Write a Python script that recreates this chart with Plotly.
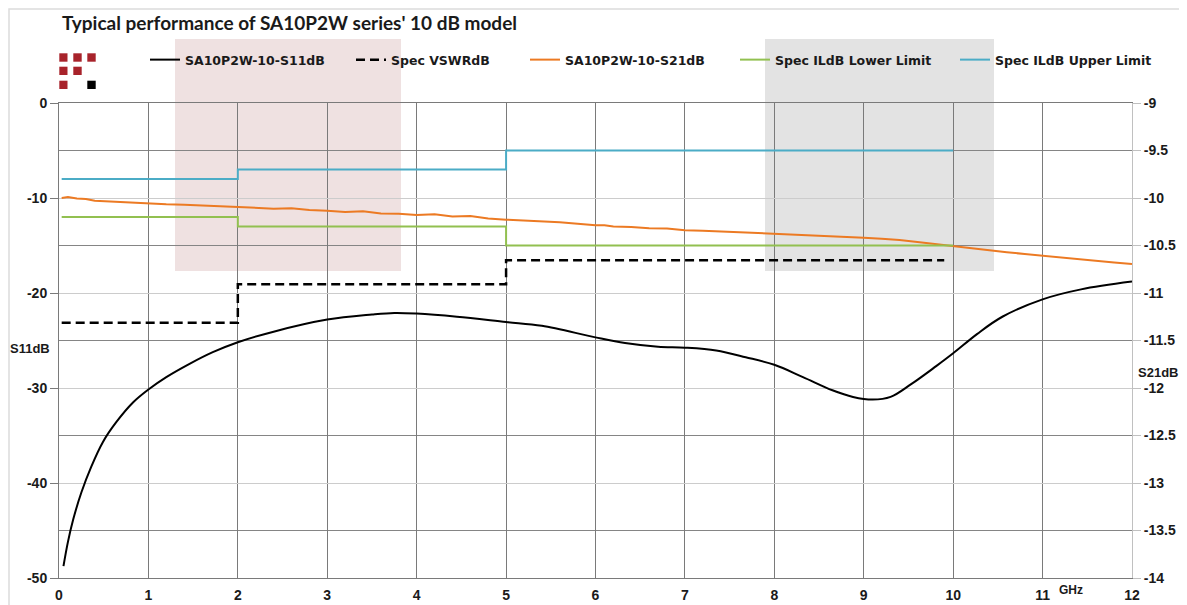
import plotly.graph_objects as go

# ---------------- data ----------------
s11_x = [0.05, 0.10, 0.16, 0.25, 0.36, 0.49, 0.64, 0.83, 1.00, 1.20, 1.46, 1.72, 2.00, 2.40,
         3.00, 3.50, 3.75, 4.00, 4.45, 5.00, 5.40, 6.00, 6.33, 6.70, 7.00, 7.35, 7.68, 8.00,
         8.32, 8.65, 8.88, 9.10, 9.30, 9.53, 9.81, 10.00, 10.27, 10.55, 11.00, 11.43, 12.00]
s11_db = [-48.75, -46.2, -43.8, -41.0, -38.3, -35.7, -33.6, -31.5, -30.16, -28.86, -27.46, -26.23,
          -25.18, -24.07, -22.8, -22.27, -22.1, -22.17, -22.5, -23.05, -23.45, -24.67, -25.26,
          -25.65, -25.75, -26.05, -26.76, -27.56, -28.85, -30.24, -30.94, -31.22, -30.94, -29.6,
          -27.7, -26.35, -24.3, -22.5, -20.67, -19.62, -18.8]

vswr_x = [0.03, 2.0, 5.0, 9.9]
vswr_db = [-23.13, -19.08, -16.54, -16.54]

s21_x = [0.03, 0.1, 0.2, 0.3, 0.4, 0.6, 0.8, 1.0, 1.2, 1.4, 1.6, 1.8, 2.0, 2.2, 2.4, 2.6, 2.8,
         3.0, 3.2, 3.4, 3.6, 3.8, 4.0, 4.2, 4.4, 4.6, 4.8, 5.0, 5.2, 5.4, 5.6, 5.8, 6.0, 6.1,
         6.2, 6.4, 6.6, 6.8, 7.0, 7.2, 7.4, 7.6, 7.8, 8.0, 8.2, 8.4, 8.6, 8.8, 9.0, 9.2, 9.4,
         9.6, 9.8, 10.0, 10.2, 10.4, 10.6, 10.8, 11.0, 11.2, 11.4, 11.6, 11.8, 12.0]
s21_db = [-10.000, -9.990, -10.005, -10.010, -10.030, -10.040, -10.050, -10.058, -10.066, -10.070,
          -10.078, -10.086, -10.095, -10.100, -10.112, -10.108, -10.126, -10.135, -10.148, -10.140,
          -10.162, -10.165, -10.180, -10.172, -10.195, -10.190, -10.215, -10.228, -10.235, -10.248,
          -10.255, -10.270, -10.288, -10.286, -10.300, -10.305, -10.318, -10.320, -10.340, -10.344,
          -10.352, -10.358, -10.368, -10.378, -10.382, -10.390, -10.400, -10.405, -10.418, -10.430,
          -10.442, -10.462, -10.485, -10.508, -10.530, -10.548, -10.570, -10.590, -10.608, -10.630,
          -10.650, -10.668, -10.680, -10.695]

lim_x = [0.03, 2.0, 5.0, 10.0]
lower_db = [-10.2, -10.3, -10.5, -10.5]
upper_db = [-9.8, -9.7, -9.5, -9.5]

names = ["SA10P2W-10-S11dB", "Spec VSWRdB", "SA10P2W-10-S21dB",
         "Spec ILdB Lower Limit", "Spec ILdB Upper Limit"]
left_ticks = [0, -10, -20, -30, -40, -50]
left_labels = ["0", "-10", "-20", "-30", "-40", "-50"]
right_ticks = [-9, -9.5, -10, -10.5, -11, -11.5, -12, -12.5, -13, -13.5, -14]
right_labels = ["-9", "-9.5", "-10", "-10.5", "-11", "-11.5", "-12", "-12.5", "-13", "-13.5", "-14"]
x_ticks = [0, 1, 2, 3, 4, 5, 6, 7, 8, 9, 10, 11, 12]
title_text = "Typical performance of SA10P2W series' 10 dB model"

# ---------------- layout helpers ----------------
# the page body adds an 8 px offset; screen coordinates below are converted
OFF = 8
SW, SH = 1187, 605
W, H = SW - OFF, SH - OFF
PL, PR, PT, PB = 59, 1132, 103, 578          # plot area in screen pixels
L, R, T, B = PL - OFF, SW - PR, PT - OFF, SH - PB
PW, PH = PR - PL, PB - PT


def px(x):
    return (x - PL) / PW


def py(y):
    return (PB - y) / PH


LEG_FONT = "DejaVu Sans"
TICK_FONT = "Liberation Sans"
BOLD = dict(family=TICK_FONT, size=13, color="#1a1a1a", weight="bold")
TICKF = dict(family=TICK_FONT, size=14, color="#1a1a1a", weight="bold")

fig = go.Figure()
fig.add_trace(go.Scatter(x=s11_x, y=s11_db, name=names[0], mode="lines",
                         line=dict(color="#000000", width=2, shape="spline", smoothing=1.0),
                         legend="legend", yaxis="y"))
fig.add_trace(go.Scatter(x=vswr_x, y=vswr_db, name=names[1], mode="lines",
                         line=dict(color="#000000", width=2.5, dash="9px,5px", shape="hv"),
                         legend="legend2", yaxis="y"))
fig.add_trace(go.Scatter(x=s21_x, y=s21_db, name=names[2], mode="lines",
                         line=dict(color="#ec7a23", width=2),
                         legend="legend3", yaxis="y2"))
fig.add_trace(go.Scatter(x=lim_x, y=lower_db, name=names[3], mode="lines",
                         line=dict(color="#92c050", width=2, shape="hv"),
                         legend="legend4", yaxis="y2"))
fig.add_trace(go.Scatter(x=lim_x, y=upper_db, name=names[4], mode="lines",
                         line=dict(color="#4bacc6", width=2, shape="hv"),
                         legend="legend5", yaxis="y2"))

shapes = []
# highlighted background regions
shapes.append(dict(type="rect", xref="paper", yref="paper", x0=px(175), x1=px(401),
                   y0=py(271), y1=py(39), fillcolor="#efe1e1", line=dict(width=0), layer="below"))
shapes.append(dict(type="rect", xref="paper", yref="paper", x0=px(765), x1=px(994),
                   y0=py(271), y1=py(39), fillcolor="#e3e3e3", line=dict(width=0), layer="below"))
# outer frame
shapes.append(dict(type="rect", xref="paper", yref="paper", x0=px(9), x1=px(1220),
                   y0=py(640), y1=py(9), line=dict(color="#dcdcdc", width=1.5), layer="below"))
# logo
cols = [(59.3, 67.5), (73.3, 81.7), (87.3, 95.7)]
rows = [(53.3, 61.7), (66.7, 75.0), (80.7, 89.0)]
cells = [(0, 0, "#a8232b"), (0, 1, "#a8232b"), (0, 2, "#a8232b"),
         (1, 0, "#a8232b"), (1, 1, "#a8232b"), (2, 0, "#a8232b"), (2, 2, "#000000")]
for r, c, col in cells:
    shapes.append(dict(type="rect", xref="paper", yref="paper",
                       x0=px(cols[c][0]), x1=px(cols[c][1]),
                       y0=py(rows[r][1]), y1=py(rows[r][0]),
                       fillcolor=col, line=dict(width=0)))

annotations = [
    dict(text="S11dB", xref="paper", yref="paper", x=px(30), y=py(348), showarrow=False,
         font=BOLD, xanchor="center", yanchor="middle"),
    dict(text="S21dB", xref="paper", yref="paper", x=px(1158), y=py(372), showarrow=False,
         font=BOLD, xanchor="center", yanchor="middle"),
    dict(text="GHz", xref="paper", yref="paper", x=px(1071), y=py(590), showarrow=False,
         font=dict(family=TICK_FONT, size=12, color="#1a1a1a", weight="bold"),
         xanchor="center", yanchor="middle"),
]

legend_px = [150, 356, 530, 740, 960]
leg_common = dict(orientation="h", xanchor="left", yanchor="middle", xref="container",
                  yref="container", y=1 - (60 - OFF) / H,
                  bgcolor="rgba(0,0,0,0)", borderwidth=0,
                  font=dict(family=LEG_FONT, size=12.5, color="#1a1a1a", weight="bold"))

fig.update_layout(
    width=W, height=H, showlegend=True,
    margin=dict(l=L, r=R, t=T, b=B, autoexpand=False),
    paper_bgcolor="#ffffff", plot_bgcolor="rgba(0,0,0,0)",
    title=dict(text=title_text, xref="container", x=(62 - OFF) / W, xanchor="left",
               yref="container", y=1 - (23 - OFF) / H, yanchor="middle",
               font=dict(family="Lato", size=19, color="#1a1a1a", weight="bold")),
    xaxis=dict(range=[0, 12], tickvals=x_ticks, showgrid=True, gridcolor="#7a7a7a", gridwidth=1,
               showline=True, linecolor="#7a7a7a", linewidth=1, mirror=True, zeroline=False,
               ticks="", ticklabelstandoff=4, automargin=False, tickfont=TICKF),
    yaxis=dict(range=[-50, 0], tickvals=left_ticks, ticktext=left_labels, showgrid=True,
               gridcolor="#cccccc", gridwidth=1, zeroline=False, showline=True,
               linecolor="#7a7a7a", linewidth=1, automargin=False,
               ticks="outside", ticklen=8, tickcolor="#7a7a7a",
               minor=dict(tickvals=[-45, -35, -25, -15, -5], showgrid=True,
                          gridcolor="#858585", gridwidth=1, ticks=""),
               tickfont=TICKF),
    yaxis2=dict(range=[-14, -9], tickvals=right_ticks, ticktext=right_labels,
                overlaying="y", side="right", automargin=False,
                showgrid=False, zeroline=False, showline=True, linecolor="#c0c0c0", linewidth=1,
                ticks="outside", ticklen=8, tickcolor="#c0c0c0", tickfont=TICKF),
    legend=dict(x=(legend_px[0] - 5 - OFF) / W, **leg_common),
    legend2=dict(x=(legend_px[1] - 5 - OFF) / W, **leg_common),
    legend3=dict(x=(legend_px[2] - 5 - OFF) / W, **leg_common),
    legend4=dict(x=(legend_px[3] - 5 - OFF) / W, **leg_common),
    legend5=dict(x=(legend_px[4] - 5 - OFF) / W, **leg_common),
    shapes=shapes,
    annotations=annotations,
)

fig.write_html("out.html")
